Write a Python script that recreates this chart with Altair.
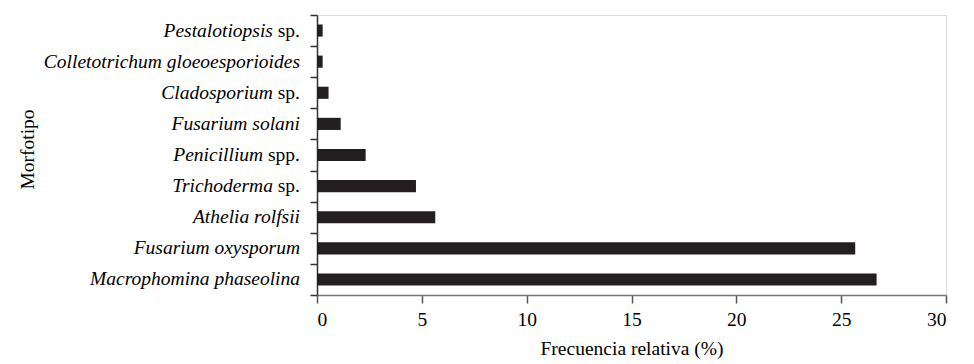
import altair as alt
import pandas as pd

# Data (top to bottom as shown)
genus = [
    "Pestalotiopsis",
    "Colletotrichum gloeoesporioides",
    "Cladosporium",
    "Fusarium solani",
    "Penicillium",
    "Trichoderma",
    "Athelia rolfsii",
    "Fusarium oxysporum",
    "Macrophomina phaseolina",
]
suffix = ["sp.", "", "sp.", "", "spp.", "sp.", "", "", ""]
freq = [0.27, 0.27, 0.55, 1.13, 2.32, 4.72, 5.64, 25.67, 26.69]

labels = [g + (" " + s if s else "") for g, s in zip(genus, suffix)]
df = pd.DataFrame({"label": labels, "genus": genus, "suffix": suffix, "freq": freq})

FONT = "Liberation Serif"
FS = 19.5
PAD = 17
# approximate widths of the upright suffixes (Times metrics, incl. leading space)
SUF_W = {"": 0, "sp.": (250 + 389 + 500 + 250) * FS / 1000, "spp.": (250 + 389 + 500 + 500 + 250) * FS / 1000}

yenc = alt.Y(
    "label:N",
    sort=labels,
    scale=alt.Scale(paddingInner=0, paddingOuter=0),
    axis=alt.Axis(
        labels=False,
        tickBand="extent",
        title="Morfotipo",
        titleFont=FONT,
        titleFontSize=FS,
        titleFontWeight="normal",
        titleColor="black",
        titleX=-290,
        titleY=134,
        titleAngle=-90,
        titleAlign="center",
        titleBaseline="middle",
        tickSize=7,
        tickColor="#333",
        domainColor="#333",
        tickWidth=1.5,
        domainWidth=1.5,
    ),
)

bars = alt.Chart(df).mark_bar(color="#231f20", height=alt.RelativeBandSize(0.39)).encode(
    x=alt.X(
        "freq:Q",
        scale=alt.Scale(domain=[0, 30], nice=False),
        axis=alt.Axis(
            values=[0, 5, 10, 15, 20, 25, 30],
            grid=False,
            title="Frecuencia relativa (%)",
            titleFont=FONT,
            titleFontSize=FS,
            titleFontWeight="normal",
            titleColor="black",
            titlePadding=11,
            labelFont=FONT,
            labelFontSize=FS,
            labelColor="black",
            labelPadding=7,
            tickSize=8,
            tickColor="#555",
            domainColor="#777",
            tickWidth=1.5,
            domainWidth=1.5,
        ),
    ),
    y=yenc,
)

layers = [bars]
for suf, w in SUF_W.items():
    sub = df[df["suffix"] == suf]
    layers.append(
        alt.Chart(sub).mark_text(
            font=FONT, fontSize=FS, fontStyle="italic", align="right",
            baseline="middle", color="black"
        ).encode(y=yenc, x=alt.value(-PAD - w), text="genus:N")
    )
    if suf:
        layers.append(
            alt.Chart(sub).mark_text(
                font=FONT, fontSize=FS, align="right", baseline="middle", color="black"
            ).encode(y=yenc, x=alt.value(-PAD), text="suffix:N")
        )

chart = (
    alt.layer(*layers)
    .properties(
        width=629,
        height=280,
        autosize=alt.AutoSizeParams(type="none"),
        padding={"left": 309, "top": 7, "right": 20, "bottom": 68},
    )
    .configure_view(stroke="#404040", strokeWidth=2)
    .configure(background="white")
)

chart.save("out.html", embed_options={"renderer": "svg", "actions": False})
